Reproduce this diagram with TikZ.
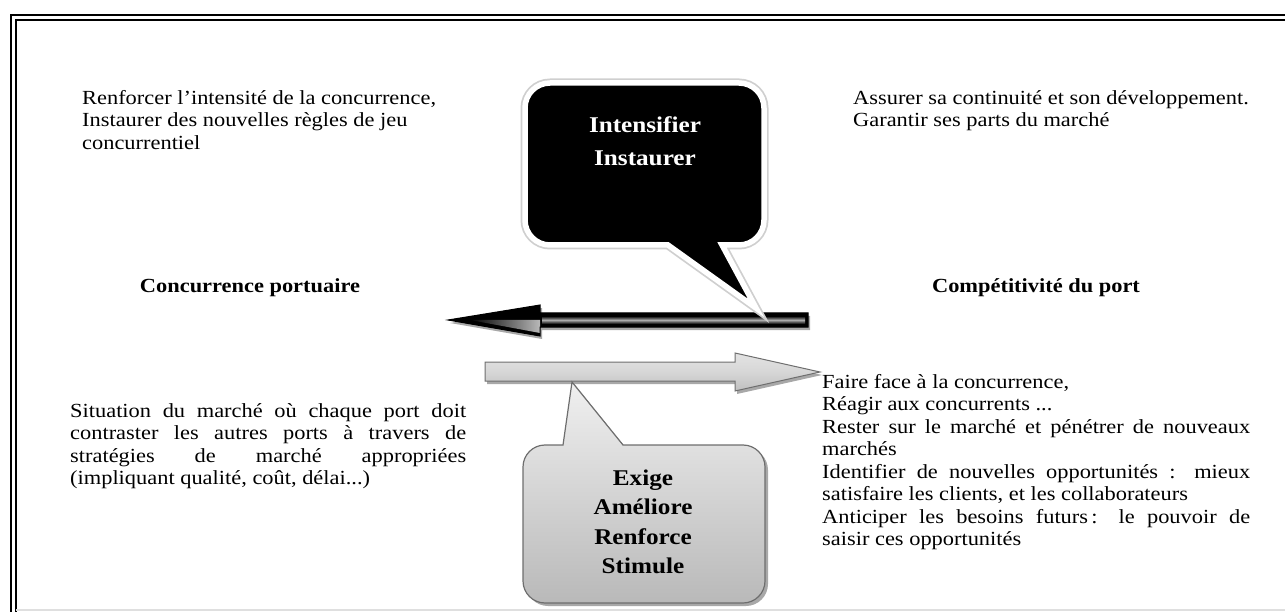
\documentclass[tikz,border=0pt]{standalone}
\usepackage{fontspec}
\setmainfont{Liberation Serif}[FakeStretch=1.12]
\usetikzlibrary{calc}
\setlength{\parindent}{0pt}
\tolerance=10000
\hbadness=10000
\definecolor{rimgray}{HTML}{CFCFCF}
\definecolor{edgegray}{HTML}{6E6E6E}
\definecolor{shadowgray}{HTML}{A8A8A8}
\tikzset{
  txt/.style={inner sep=0pt,anchor=north west,font=\fontsize{20}{22.5}\selectfont},
  lbl/.style={inner sep=0pt,font=\bfseries\fontsize{20}{24}\selectfont},
  bulletxt/.style={inner sep=0pt,align=center,font=\bfseries\fontsize{22.5}{33}\selectfont}
}
% formes (coordonnees en pixels, y vers le bas)
\newcommand{\flecheN}{(808,313) -- (540,313) -- (540,305) -- (448,320) -- (540,336) -- (540,327) -- (808,327) -- cycle}
\newcommand{\flecheG}{(485,362) -- (735,362) -- (735,353) -- (820,372) -- (735,391) -- (735,381) -- (485,381) -- cycle}
\newcommand{\bulleN}{(756,308) -- (668,245) -- (550,245) arc[start angle=90,end angle=180,radius=25] -- (525,108) arc[start angle=180,end angle=270,radius=25] -- (739,83) arc[start angle=270,end angle=360,radius=25] -- (764,220) arc[start angle=0,end angle=90,radius=25] -- (722,245) -- cycle}
\newcommand{\bulleG}{(572,382) -- (623,445) -- (743,445) arc[start angle=270,end angle=360,radius=22] -- (765,581) arc[start angle=0,end angle=90,radius=22] -- (545,603) arc[start angle=90,end angle=180,radius=22] -- (523,467) arc[start angle=180,end angle=270,radius=22] -- (563,445) -- cycle}
\begin{document}
\begin{tikzpicture}[x=1pt,y=-1pt]
\useasboundingbox (0,0) rectangle (1285,612);
% cadre
\draw[line width=2.6pt] (11,612) -- (11,15) -- (1285,15);
\draw[line width=1.8pt] (16,612) -- (16,20) -- (1285,20);
\draw[gray!25,line width=1.5pt] (16,610) -- (1285,610);

% textes
\node[txt,align=left] (txtconc) at (82,90) {Renforcer l’intensité de la concurrence,\\Instaurer des nouvelles règles de jeu\\concurrentiel};
\node[txt,align=left] (txtcomp) at (853,90) {Assurer sa continuité et son développement.\\Garantir ses parts du marché};
\node[lbl] (lblconc) at (250,288) {Concurrence portuaire};
\node[lbl] (lblcomp) at (1036,288) {Compétitivité du port};
\node[txt,text width=396pt,align=justify] (txtsit) at (70,403) {Situation du marché où chaque port doit\linebreak contraster les autres ports à travers de\linebreak stratégies de marché appropriées\linebreak (impliquant qualité, coût, délai...)};
\node[txt,text width=428pt,align=justify] (txtfaire) at (822,374) {Faire face à la concurrence,\par Réagir aux concurrents ...\par Rester sur le marché et pénétrer de nouveaux\linebreak marchés\par Identifier de nouvelles opportunités : mieux\linebreak satisfaire les clients, et les collaborateurs\par Anticiper les besoins futurs\,: le pouvoir de\linebreak saisir ces opportunités};

% fleche noire
\begin{scope}[shift={(2,3)}]
  \fill[shadowgray] \flecheN;
\end{scope}
\fill[black] \flecheN;
\shade[left color=black,right color=gray!55] (470,320) -- (540,320) -- (540,333) -- cycle;
\shade[top color=black,bottom color=black,middle color=gray!65] (542,316) rectangle (805,324);
\draw[black,line width=1pt,line join=miter] \flecheN;

% fleche grise
\begin{scope}[shift={(2,3)}]
  \fill[shadowgray] \flecheG;
\end{scope}
\shade[top color=gray!22,bottom color=gray!50,middle color=gray!32] \flecheG;
\draw[edgegray,line width=1pt] \flecheG;

% bulle noire
\draw[rimgray,line width=9pt,line join=miter] \bulleN;
\draw[white,line width=5.5pt,fill=black,line join=miter] \bulleN;
\node[bulletxt,text=white] (bulleI) at (645,141) {Intensifier\\Instaurer};

% bulle grise
\begin{scope}[shift={(3,3)}]
  \fill[shadowgray] \bulleG;
\end{scope}
\shade[top color=gray!12,bottom color=gray!55] \bulleG;
\draw[edgegray,line width=1.2pt] \bulleG;
\node[bulletxt,font=\bfseries\fontsize{22.5}{29.5}\selectfont] (bulleE) at (643,522) {Exige\\Améliore\\Renforce\\Stimule};
\end{tikzpicture}
\end{document}
